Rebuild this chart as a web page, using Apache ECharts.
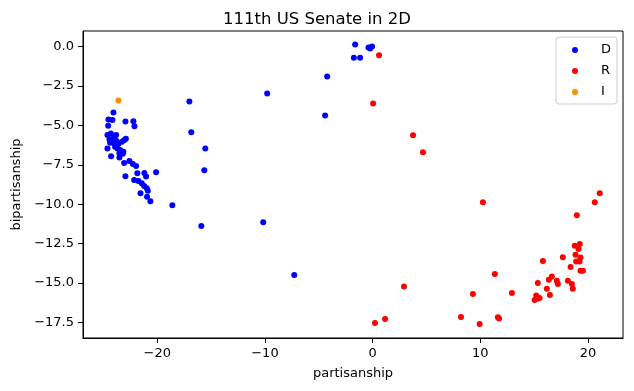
<!DOCTYPE html>
<html>
<head>
<meta charset="utf-8">
<script src="https://cdn.jsdelivr.net/npm/echarts@6/dist/echarts.min.js"></script>
<style>html,body{margin:0;padding:0;background:#fff}#c{width:634px;height:391px}</style>
</head>
<body>
<div id="c"></div>
<script>
const partyNames = ['D', 'R', 'I'];
const xTicks = [-20, -10, 0, 10, 20];
const yTicks = [0, -2.5, -5, -7.5, -10, -12.5, -15, -17.5];

const demPoints = [
  [-1.62,0.13],[-0.38,-0.06],[-0.22,-0.12],[-0.05,0.0],[-1.74,-0.70],[-1.16,-0.70],
  [-4.22,-1.90],[-9.79,-2.97],[-4.41,-4.37],[-17.02,-3.48],[-16.84,-5.44],[-15.54,-6.46],
  [-15.63,-7.85],[-15.91,-11.39],[-10.16,-11.14],[-7.28,-14.49],[-18.60,-10.06],[-20.11,-7.97],
  [-24.07,-4.18],[-24.54,-4.62],[-24.17,-4.66],[-22.96,-4.75],[-22.22,-4.73],[-22.12,-5.06],[-24.56,-5.02],
  [-24.63,-5.61],[-24.31,-5.51],[-24.07,-5.68],[-23.82,-5.61],[-24.44,-5.89],[-24.13,-5.93],[-23.82,-5.97],
  [-24.38,-6.10],[-24.01,-6.14],[-23.61,-6.18],[-23.29,-6.04],[-23.05,-5.93],[-22.92,-5.85],[-23.92,-6.35],
  [-23.70,-6.46],[-23.45,-6.56],[-23.15,-6.67],[-23.52,-6.77],[-24.63,-6.46],[-24.29,-6.96],[-23.52,-7.03],
  [-23.20,-6.80],[-23.08,-7.39],[-22.59,-7.26],[-22.27,-7.45],[-21.97,-7.58],[-22.96,-8.23],[-21.85,-8.04],
  [-21.20,-8.02],[-21.04,-8.25],[-22.15,-8.46],[-21.75,-8.53],[-21.44,-8.67],[-21.22,-8.84],[-20.97,-8.99],
  [-20.88,-9.14],[-21.56,-9.30],[-20.95,-9.52],[-20.64,-9.81]
];
const repPoints = [
  [0.60,-0.55],[0.05,-3.61],[3.76,-5.63],[4.68,-6.71],
  [10.25,-9.87],[21.10,-9.30],[20.64,-9.87],[18.97,-10.70],
  [18.78,-12.64],[19.25,-12.53],[19.13,-12.85],[18.85,-13.21],[19.31,-13.38],[18.91,-13.63],[19.22,-13.63],
  [17.67,-13.36],[15.82,-13.61],[18.39,-13.99],[19.31,-14.22],[19.53,-14.22],
  [11.36,-14.43],[16.65,-14.58],[16.37,-14.79],[17.11,-14.85],[17.21,-15.06],
  [18.14,-14.85],[18.51,-15.06],[18.60,-15.36],[15.35,-15.00],[16.19,-15.36],[16.47,-15.76],
  [2.92,-15.23],[12.94,-15.63],[9.32,-15.70],
  [15.20,-15.80],[15.51,-15.95],[15.05,-16.08],[15.30,-16.00],
  [8.21,-17.15],[11.64,-17.18],[11.75,-17.25],[9.94,-17.60],[1.16,-17.28],[0.22,-17.54]
];
const indPoints = [[-23.61,-3.42]];

const colors = ['#0000ff', '#ff0000', '#ff8c00'];
const FONT = 'DejaVu Sans';
const minus = v => String(v).replace('-', '\u2212');

const chart = echarts.init(document.getElementById('c'), null, {renderer: 'canvas'});
const seriesData = [demPoints, repPoints, indPoints];
chart.setOption({
  animation: false,
  backgroundColor: '#fff',
  title: {
    text: '111th US Senate in 2D', left: 'center', top: 6,
    textStyle: {fontFamily: FONT, fontSize: 16.5, fontWeight: 'normal', color: '#000'}
  },
  grid: {left: 83, right: 11, top: 31, bottom: 53, show: true, borderColor: '#000', borderWidth: 1, backgroundColor: 'transparent'},
  legend: {
    orient: 'vertical', right: 17, top: 37,
    data: partyNames,
    icon: 'circle', itemWidth: 6, itemHeight: 6, itemGap: 7,
    padding: [6, 6, 5, 16],
    backgroundColor: '#fff', borderColor: '#cccccc', borderWidth: 1, borderRadius: 3,
    textStyle: {fontFamily: FONT, fontSize: 13, color: '#000', padding: [0, 0, 0, 18], lineHeight: 14}
  },
  xAxis: {
    type: 'value', min: -26.9, max: 23.26,
    name: 'partisanship', nameLocation: 'middle', nameGap: 29,
    nameTextStyle: {fontFamily: FONT, fontSize: 13, color: '#000'},
    axisLine: {show: true, onZero: false, lineStyle: {color: '#000', width: 1}},
    axisTick: {show: true, length: 5, lineStyle: {color: '#000'}, customValues: xTicks},
    axisLabel: {fontFamily: FONT, fontSize: 13, color: '#000', margin: 9, customValues: xTicks, formatter: v => minus(v)},
    splitLine: {show: false}
  },
  yAxis: {
    type: 'value', min: -18.49, max: 0.99,
    name: 'bipartisanship', nameLocation: 'middle', nameGap: 59,
    nameTextStyle: {fontFamily: FONT, fontSize: 13, color: '#000'},
    axisLine: {show: true, onZero: false, lineStyle: {color: '#000', width: 1}},
    axisTick: {show: true, length: 5, lineStyle: {color: '#000'}, customValues: yTicks},
    axisLabel: {fontFamily: FONT, fontSize: 13, color: '#000', margin: 9, customValues: yTicks, formatter: v => minus(Number(v).toFixed(1))},
    splitLine: {show: false}
  },
  series: partyNames.map((n, i) => ({
    name: n, type: 'scatter', data: seriesData[i], symbol: 'circle', symbolSize: 6,
    itemStyle: {color: colors[i], opacity: 1}, z: 2 + i
  }))
});
</script>
</body>
</html>
